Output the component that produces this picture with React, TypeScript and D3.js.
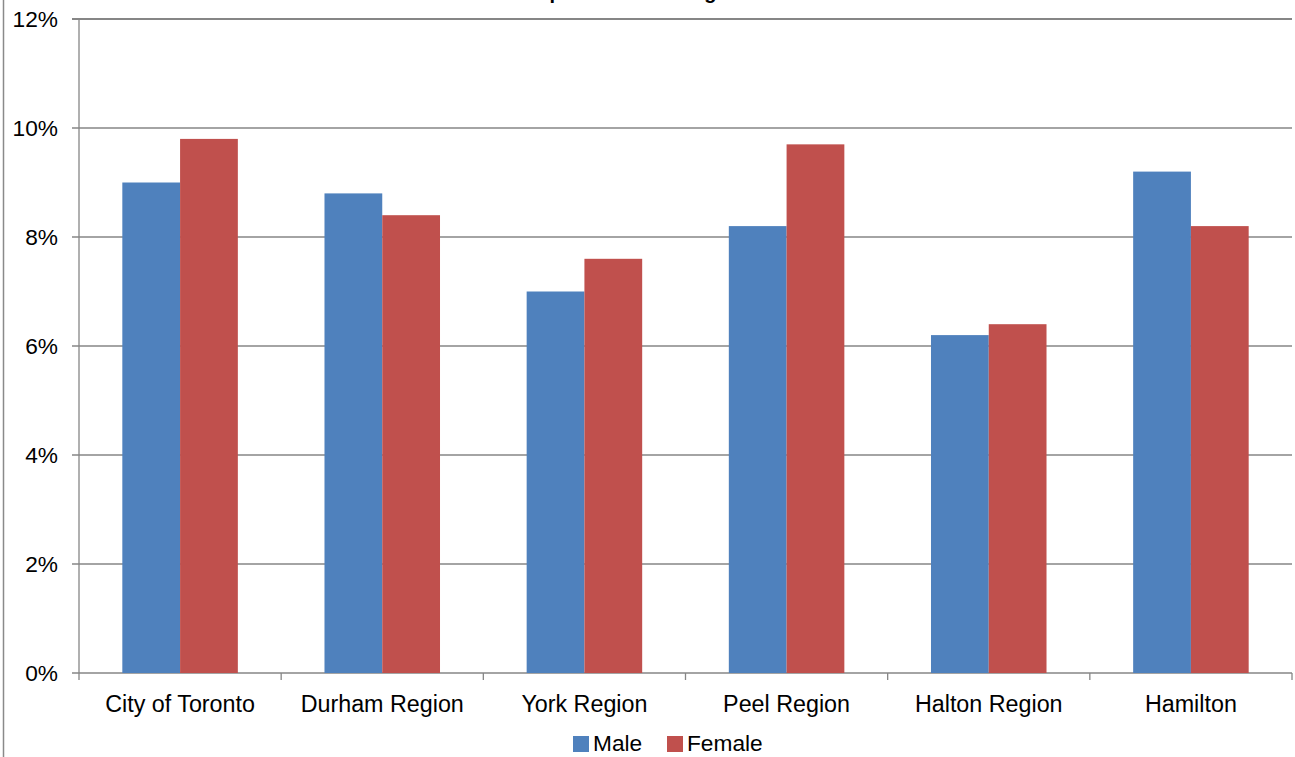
import React from "react";
import * as d3 from "d3";

const categories = ["City of Toronto", "Durham Region", "York Region", "Peel Region", "Halton Region", "Hamilton"];
const seriesNames = ["Male", "Female"];
const maleValues = [9.0, 8.8, 7.0, 8.2, 6.2, 9.2];
const femaleValues = [9.8, 8.4, 7.6, 9.7, 6.4, 8.2];
const yTicks = [0, 2, 4, 6, 8, 10, 12];
const colors = ["#4F81BD", "#C0504D"];
const title = "Complications Among Males and Females";

const W = 1295;
const H = 757;
const left = 79;
const right = 1292;
const top = 19;
const bottom = 673;
const FONT = "Liberation Sans, Arial, sans-serif";

export default function App() {
  const x = d3.scaleBand<string>().domain(categories).range([left, right]).paddingInner(0).paddingOuter(0);
  const bw = x.bandwidth();
  const barW = bw / (2 + 0.75 * 2) ;
  const gap = (bw - 2 * barW) / 2;
  const y = d3.scaleLinear().domain([0, 12]).range([bottom, top]);
  const series = [maleValues, femaleValues];
  const grid = "#868686";

  return (
    <svg width={W} height={H} style={{ position: "absolute", left: 0, top: 0, background: "#fff" }} fontFamily={FONT}>
      <rect x={0} y={0} width={W} height={H} fill="#fff" />
      <line x1={3.5} x2={3.5} y1={0} y2={H} stroke="#8a8a8a" strokeWidth={1.5} />
      <text x={505} y={-1.5} fontSize={20} fontWeight="bold" fill="#000">{title}</text>
      {yTicks.map((t) => (
        <g key={t}>
          <line x1={left - 7} x2={right} y1={y(t)} y2={y(t)} stroke={grid} strokeWidth={t === 12 ? 1.8 : 1.3} />
          <text x={58} y={y(t)} dy="0.36em" textAnchor="end" fontSize={22.7} fill="#000">{t}%</text>
        </g>
      ))}
      <line x1={left} x2={left} y1={top} y2={bottom} stroke={grid} strokeWidth={1.3} />
      {categories.map((c, i) => (
        <g key={c}>
          {series.map((vals, s) => (
            <rect
              key={s}
              x={(x(c) as number) + gap + s * barW}
              y={y(vals[i])}
              width={barW}
              height={y(0) - y(vals[i])}
              fill={colors[s]}
            />
          ))}
          <text x={(x(c) as number) + bw / 2} y={711.5} textAnchor="middle" fontSize={23.3} fill="#000">{c}</text>
        </g>
      ))}
      {[...categories.map((c) => x(c) as number), right].map((px, i) => (
        <line key={i} x1={px} x2={px} y1={bottom} y2={bottom + 7} stroke={grid} strokeWidth={1.3} />
      ))}
      {seriesNames.map((n, i) => {
        const lx = i === 0 ? 573 : 667;
        return (
          <g key={n}>
            <rect x={lx} y={736} width={16} height={16} fill={colors[i]} />
            <text x={lx + 20} y={751} fontSize={22.7} fill="#000">{n}</text>
          </g>
        );
      })}
    </svg>
  );
}
